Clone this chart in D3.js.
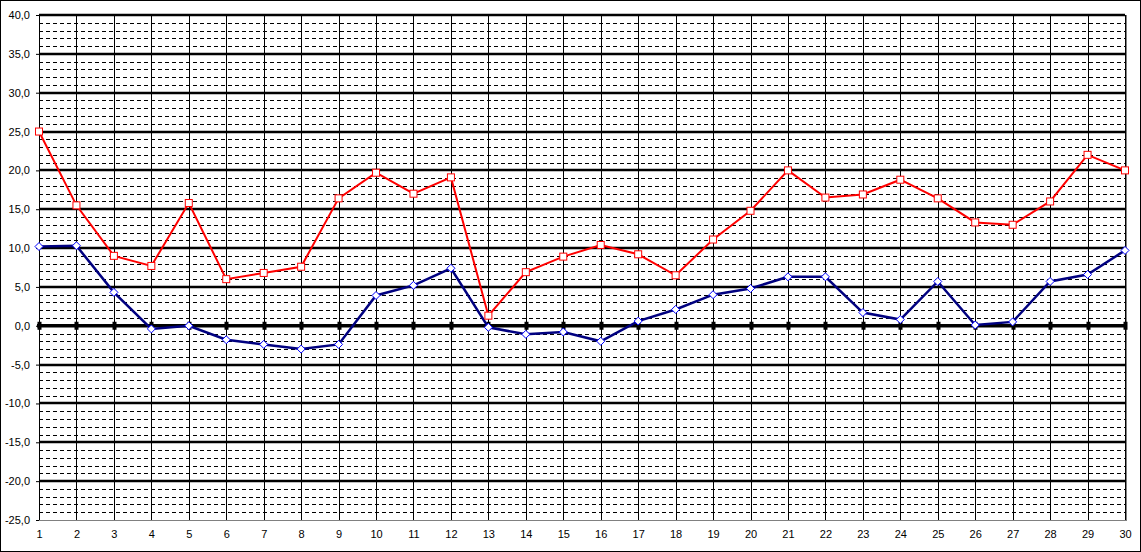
<!DOCTYPE html>
<html><head><meta charset="utf-8">
<script src="https://cdn.jsdelivr.net/npm/d3@7"></script>
<style>body{margin:0;background:#fff}svg{display:block}text{font-family:"Liberation Sans",Arial,sans-serif;font-size:11px;fill:#000}</style>
</head><body><svg id="c" width="1141" height="552"></svg>
<script>
const categories = d3.range(1, 31).map(String);
const seriesMax = [25.0,15.5,9.0,7.7,15.8,6.0,6.8,7.6,16.4,19.7,17.0,19.1,1.3,6.9,8.9,10.4,9.2,6.5,11.1,14.8,20.0,16.5,16.9,18.8,16.4,13.3,13.0,16.0,22.0,20.0];
const seriesMin = [10.2,10.3,4.3,-0.4,0.0,-1.8,-2.4,-3.0,-2.4,3.9,5.2,7.4,-0.2,-1.1,-0.8,-2.0,0.6,2.1,4.0,4.8,6.3,6.3,1.7,0.8,5.7,0.1,0.5,5.7,6.6,9.7];
const yTicks = [40,35,30,25,20,15,10,5,0,-5,-10,-15,-20,-25];

const svg = d3.select("#c");
const L = 39, R = 1125, T = 15, B = 520;
const x = d3.scalePoint().domain(categories).range([L, R]);
const y = d3.scaleLinear().domain([-25, 40]).range([B, T]);

svg.append("rect").attr("x",0.5).attr("y",0.5).attr("width",1140).attr("height",551).attr("fill","#fff").attr("stroke","#000");

const g = svg.append("g");
// minor dashed lines
const minor = d3.range(-25, 41).filter(v => v % 5 !== 0);
g.selectAll(".minor").data(minor).join("line")
  .attr("x1", L).attr("x2", R).attr("y1", d => Math.round(y(d)) + 0.5).attr("y2", d => Math.round(y(d)) + 0.5)
  .attr("stroke", "#000").attr("stroke-width", 1).attr("stroke-dasharray", "4,3");
// vertical lines
g.selectAll(".vl").data(categories).join("line")
  .attr("x1", d => Math.round(x(d)) + 0.5).attr("x2", d => Math.round(x(d)) + 0.5)
  .attr("y1", T).attr("y2", B).attr("stroke", "#000").attr("stroke-width", 1);
// major lines
g.selectAll(".major").data(yTicks.filter(v => v !== 0 && v !== -25)).join("line")
  .attr("x1", L).attr("x2", R).attr("y1", d => Math.round(y(d))).attr("y2", d => Math.round(y(d)))
  .attr("stroke", "#000").attr("stroke-width", 2.5);
// plot border right/bottom gray
g.append("line").attr("x1", R + 1.5).attr("x2", R + 1.5).attr("y1", T).attr("y2", B).attr("stroke", "#808080");
g.append("line").attr("x1", L).attr("x2", R + 2).attr("y1", B + 0.5).attr("y2", B + 0.5).attr("stroke", "#808080");

// y axis labels
svg.append("g").attr("transform", `translate(${L},0)`)
  .call(d3.axisLeft(y).tickValues(yTicks).tickSize(3).tickFormat(d => d3.format(".1f")(d).replace(".", ",").replace("−","-")))
  .call(a => a.select(".domain").remove())
  .call(a => a.selectAll("line").attr("stroke", "#000"))
  .call(a => a.selectAll("text").attr("x", -9).style("font-size", "11px").attr("fill", "#000").style("font-family", '"Liberation Sans",Arial,sans-serif'));

// zero axis with ticks
const y0 = y(0);
svg.append("line").attr("x1", L - 2).attr("x2", R + 2).attr("y1", y0).attr("y2", y0).attr("stroke", "#000").attr("stroke-width", 3.5);
svg.selectAll(".zt").data(categories).join("rect")
  .attr("x", d => Math.round(x(d)) - 1.5).attr("y", y0 - 4).attr("width", 4).attr("height", 8).attr("fill", "#000");

// x labels
svg.append("g").attr("transform", `translate(0,${B})`)
  .call(d3.axisBottom(x).tickSize(0).tickPadding(10))
  .call(a => a.select(".domain").remove())
  .call(a => a.selectAll("text").style("font-size", "11px").attr("fill", "#1a0a2a").style("font-family", '"Liberation Sans",Arial,sans-serif'));

const line = d3.line().x((d, i) => x(categories[i])).y(d => y(d));
// blue series
svg.append("path").datum(seriesMin).attr("d", line).attr("fill", "none").attr("stroke", "#000080").attr("stroke-width", 2.5);
svg.selectAll(".dm").data(seriesMin).join("path")
  .attr("transform", (d, i) => `translate(${x(categories[i])},${y(d)})`)
  .attr("d", "M0,-4L4,0L0,4L-4,0Z").attr("fill", "#fff").attr("stroke", "#0000ff").attr("stroke-width", 1);
// red series
svg.append("path").datum(seriesMax).attr("d", line).attr("fill", "none").attr("stroke", "#ff0000").attr("stroke-width", 2);
svg.selectAll(".sq").data(seriesMax).join("rect")
  .attr("x", (d, i) => x(categories[i]) - 3.5).attr("y", d => y(d) - 3.5).attr("width", 7).attr("height", 7)
  .attr("fill", "#fff").attr("stroke", "#ff0000").attr("stroke-width", 1);
</script></body></html>
